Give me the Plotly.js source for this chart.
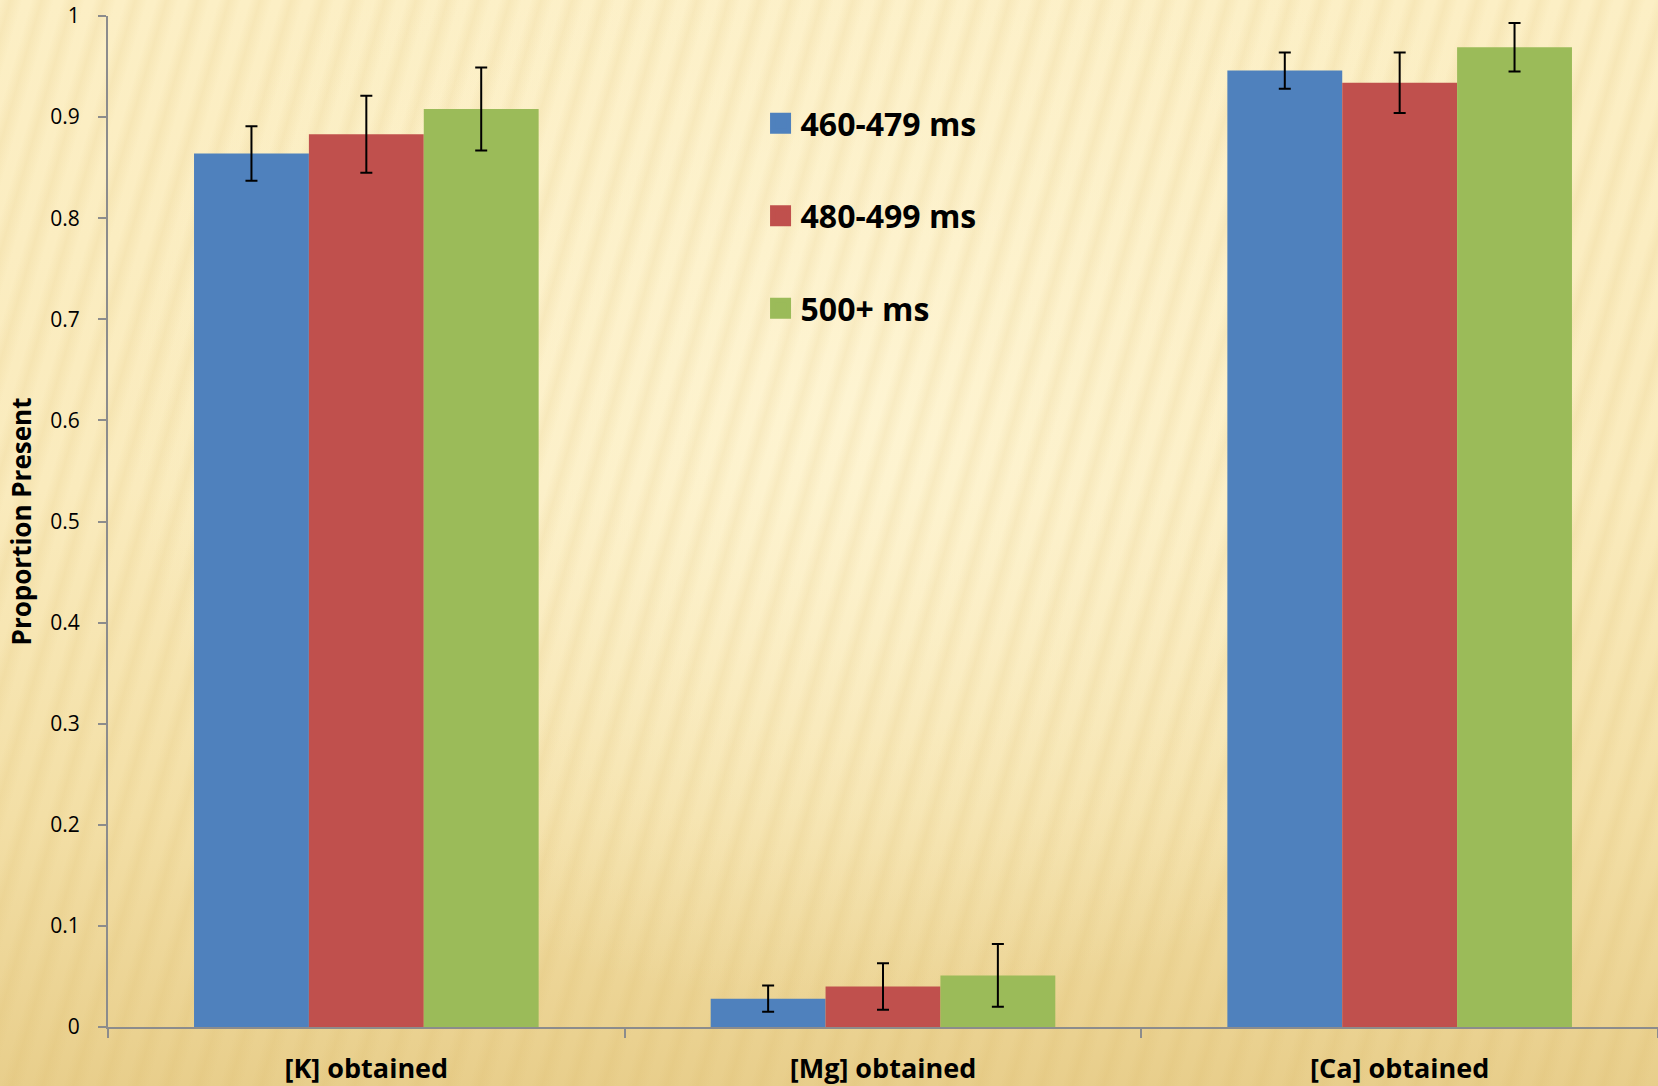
<!DOCTYPE html>
<html>
<head>
<meta charset="utf-8">
<script src="https://cdn.plot.ly/plotly-3.0.1.min.js"></script>
<style>
  html, body { margin: 0; padding: 0; }
  body {
    width: 1658px; height: 1086px; overflow: hidden;
    background:
      repeating-linear-gradient(106deg, rgba(214,178,92,0) 0px, rgba(214,178,92,0.13) 10px, rgba(214,178,92,0) 22px, rgba(214,178,92,0) 30px),
      radial-gradient(ellipse 45% 55% at 52% 38%, rgba(254,245,212,0.9) 0%, rgba(254,245,212,0) 100%),
      linear-gradient(to bottom, #FCEFC5 0%, #FAEBBD 45%, #F3DFA6 75%, #E8CE8B 100%);
  }
  #chart { width: 1658px; height: 1086px; }
</style>
</head>
<body>
<div id="chart"></div>
<script>
// ---- data ----
const categories = ["[K] obtained", "[Mg] obtained", "[Ca] obtained"];
const seriesNames = ["460-479 ms", "480-499 ms", "500+ ms"];
const values460 = [0.864, 0.028, 0.946];
const values480 = [0.883, 0.040, 0.934];
const values500 = [0.908, 0.051, 0.969];
const err460 = [0.027, 0.013, 0.018];
const err480 = [0.038, 0.023, 0.030];
const err500 = [0.041, 0.031, 0.024];
const yTickVals = [0, 0.1, 0.2, 0.3, 0.4, 0.5, 0.6, 0.7, 0.8, 0.9, 1];
const yTickText = ["0", "0.1", "0.2", "0.3", "0.4", "0.5", "0.6", "0.7", "0.8", "0.9", "1"];

const colors = ["#4F81BD", "#C0504D", "#9BBB59"];
const allValues = [values460, values480, values500];
const allErrs = [err460, err480, err500];

const traces = [];
for (let i = 0; i < 3; i++) {
  traces.push({
    type: "bar",
    name: seriesNames[i],
    x: categories,
    y: allValues[i],
    marker: { color: colors[i] },
    error_y: { type: "data", array: allErrs[i], visible: true, color: "#000000", thickness: 2, width: 6 },
    showlegend: false,
    hoverinfo: "skip"
  });
}
// legend entries (square swatches)
for (let i = 0; i < 3; i++) {
  traces.push({
    type: "scatter",
    mode: "markers",
    name: seriesNames[i],
    x: [null], y: [null],
    marker: { symbol: "square", size: 16, color: colors[i], line: { color: colors[i], width: 5 } },
    legendgroup: "g" + i,
    showlegend: true,
    hoverinfo: "skip"
  });
}

const layout = {
  width: 1658, height: 1086,
  margin: { l: 108, r: 0, t: 16, b: 59 },
  paper_bgcolor: "rgba(0,0,0,0)",
  plot_bgcolor: "rgba(0,0,0,0)",
  font: { family: "Open Sans, sans-serif", color: "#000000" },
  barmode: "group",
  bargap: 0.333,
  bargroupgap: 0,
  showlegend: true,
  legend: {
    x: 0.421, y: 0.921, xanchor: "left", yanchor: "top",
    bgcolor: "rgba(0,0,0,0)",
    font: { size: 32, family: "Open Sans, sans-serif", weight: "bold", color: "#000000" },
    tracegroupgap: 48,
    traceorder: "grouped",
    itemclick: false
  },
  xaxis: {
    type: "category",
    showline: true, linecolor: "#8C8C8C", linewidth: 2,
    ticks: "outside", tickson: "boundaries", ticklen: 9, tickcolor: "#8C8C8C", tickwidth: 2,
    showgrid: false, zeroline: false,
    tickfont: { size: 27, family: "Open Sans, sans-serif", weight: "bold", color: "#000000" },
    ticklabelstandoff: 17,
    fixedrange: true
  },
  yaxis: {
    range: [0, 1],
    tickvals: yTickVals, ticktext: yTickText,
    showline: true, linecolor: "#8C8C8C", linewidth: 2,
    ticks: "outside", ticklen: 8, tickcolor: "#8C8C8C", tickwidth: 2,
    showgrid: false, zeroline: false,
    tickfont: { size: 21, family: "Open Sans, sans-serif", color: "#000000" },
    ticklabelstandoff: 14,
    title: { text: "Proportion Present", font: { size: 26, family: "Open Sans, sans-serif", weight: "bold", color: "#000000" }, standoff: 11 },
    fixedrange: true
  }
};

Plotly.newPlot("chart", traces, layout, { displayModeBar: false, staticPlot: true });
</script>
</body>
</html>
